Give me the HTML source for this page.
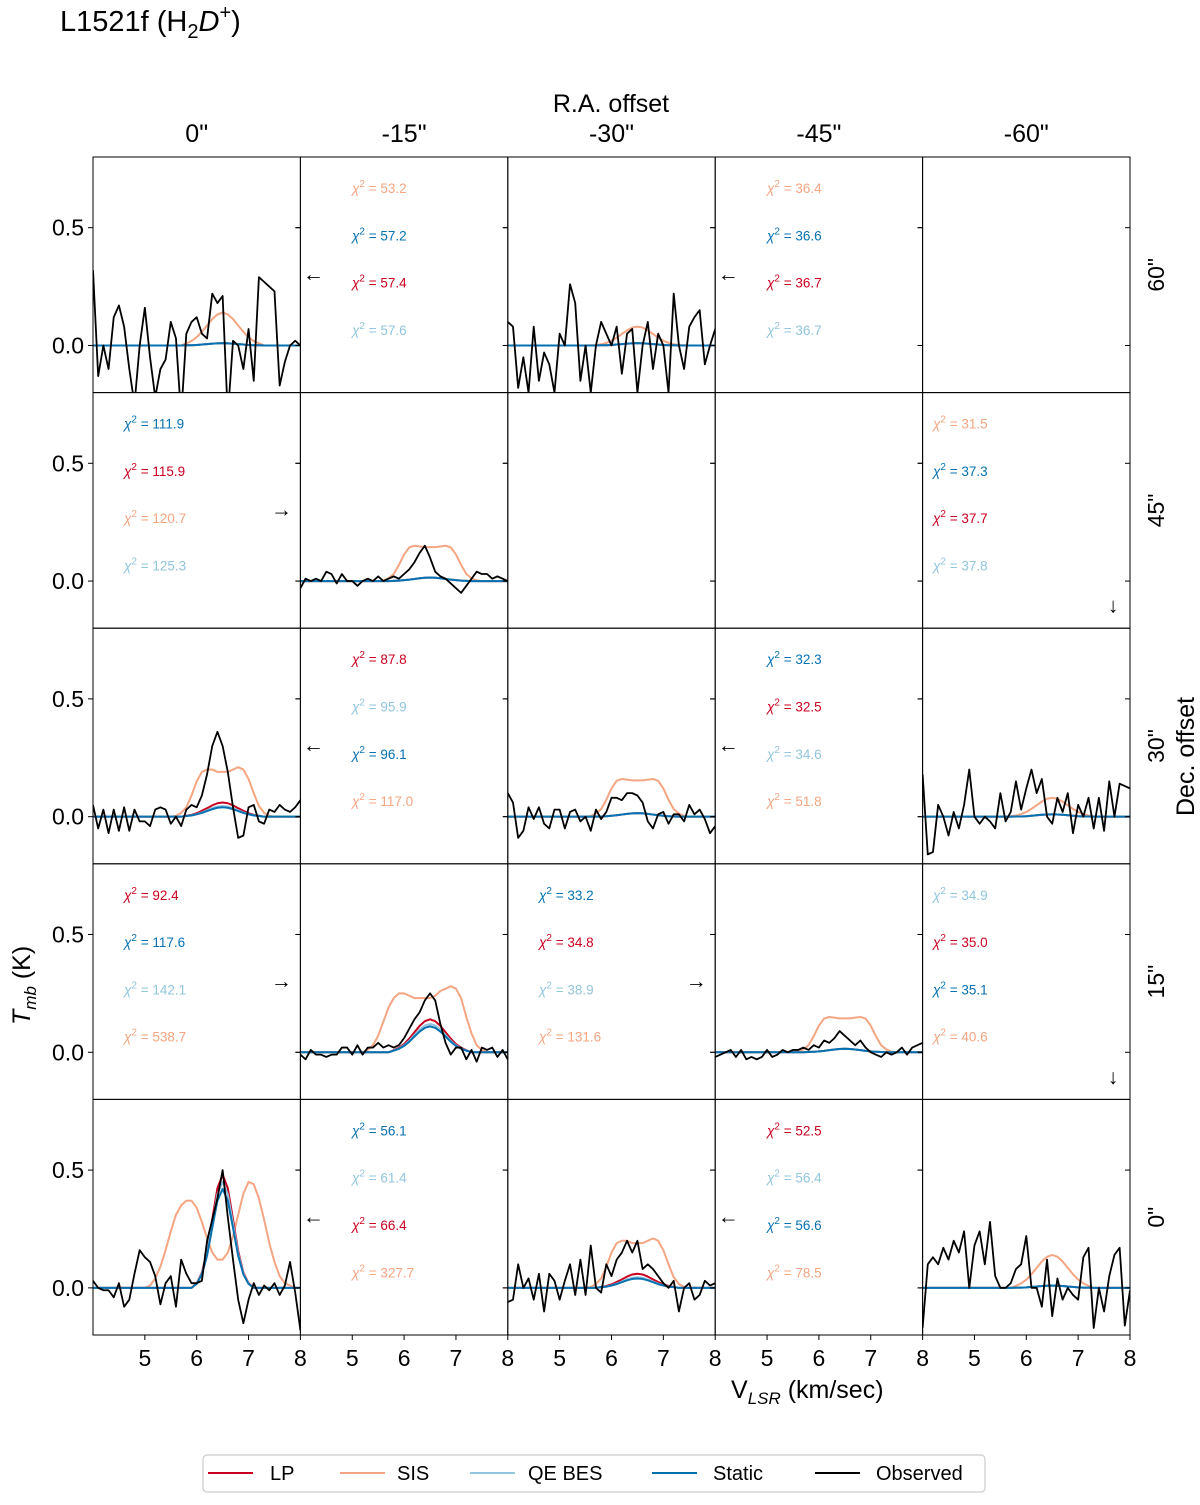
<!DOCTYPE html>
<html><head><meta charset="utf-8"><title>L1521f H2D+ spectra grid</title>
<style>
html,body{margin:0;padding:0;background:#fff;}
svg{display:block;font-family:"Liberation Sans","DejaVu Sans",sans-serif;}
</style></head>
<body>
<svg id="chart" width="1200" height="1505" viewBox="0 0 1200 1505" xmlns="http://www.w3.org/2000/svg">
<rect x="0" y="0" width="1200" height="1505" fill="#fff"/>
<text x="60" y="31" font-size="29">L1521f (H<tspan font-size="20" dy="7">2</tspan><tspan dy="-7" font-style="italic">D</tspan><tspan font-size="20" dy="-12">+</tspan><tspan dy="12">)</tspan></text>
<text x="611" y="112" font-size="25" text-anchor="middle">R.A. offset</text>
<text x="731" y="1398" font-size="25">V<tspan font-size="17" dy="6" font-style="italic">LSR</tspan><tspan dy="-6"> (km/sec)</tspan></text>
<text transform="translate(30,1025) rotate(-90)" font-size="25"><tspan font-style="italic">T</tspan><tspan font-size="17" dy="6" font-style="italic">mb</tspan><tspan dy="-6"> (K)</tspan></text>
<text transform="translate(1194,816) rotate(-90)" font-size="25">Dec. offset</text>
<g id="panels"></g>
<g id="legend">
<rect x="203" y="1455" width="782" height="37" rx="4" fill="#fff" stroke="#ccc" stroke-width="1.2"/>
<line x1="208" y1="1473" x2="253" y2="1473" stroke="#ca0020" stroke-width="2"/>
<text x="270" y="1480" font-size="20">LP</text>
<line x1="340" y1="1473" x2="385" y2="1473" stroke="#f4a582" stroke-width="2"/>
<text x="397" y="1480" font-size="20">SIS</text>
<line x1="470" y1="1473" x2="515" y2="1473" stroke="#92c5de" stroke-width="2"/>
<text x="528" y="1480" font-size="20">QE BES</text>
<line x1="652" y1="1473" x2="697" y2="1473" stroke="#0571b0" stroke-width="2"/>
<text x="713" y="1480" font-size="20">Static</text>
<line x1="815" y1="1473" x2="860" y2="1473" stroke="#000" stroke-width="2"/>
<text x="876" y="1480" font-size="20">Observed</text>
</g>
</svg>
<script>
const colLabels = ['0"','-15"','-30"','-45"','-60"'];
const rowLabels = ['60"','45"','30"','15"','0"'];
const xTicks = [5,6,7,8];
const yTicks = [0.0,0.5];
const seriesColors = {LP:'#ca0020',SIS:'#f4a582',QE:'#92c5de',Static:'#0571b0'};

// observed spectra: 4.0..8.0 step 0.1 ; models: 5.0..8.0 step 0.1 (zero below 5.0)
const obs_r0c0 = [.32,-.13,0,-.1,.12,.17,.08,-.1,-.25,0,.16,-.05,-.22,-.1,-.06,.1,.03,-.3,.05,.1,.12,.05,.03,.22,.18,.21,-.3,.02,0,-.1,.07,-.15,.29,.27,.25,.23,-.17,-.07,0,.02,0];
const obs_r0c2 = [.1,.08,-.18,-.05,-.2,.08,-.15,-.03,-.08,-.2,.05,0,.26,.18,-.15,0,-.2,0,.1,.05,0,.08,-.12,.05,.07,-.2,0,.1,-.1,.05,0,-.2,.22,0,-.1,.08,.12,.15,-.08,0,.07];
const obs_r1c1 = [-.03,.01,0,.01,0,.04,.03,-.01,.03,0,0,-.02,0,.01,0,.02,0,.01,.02,.01,.03,.05,.08,.12,.15,.1,.04,.02,.01,-.01,-.03,-.05,-.02,.01,.04,.03,.03,.01,.02,.01,0];
const obs_r2c0 = [.05,-.05,.03,-.07,.03,-.06,.04,-.06,.03,-.02,-.02,-.04,.03,.04,.03,-.03,0,-.04,.03,.05,.04,.09,.18,.3,.36,.3,.19,.04,-.09,-.08,.04,.05,-.02,-.03,.03,.02,.05,.03,.02,.04,.07];
const obs_r2c2 = [.1,.06,-.09,-.06,.04,-.01,.04,-.03,-.05,.03,.03,-.05,.02,.03,-.02,0,-.06,.03,-.01,.02,.08,.08,.07,.1,.1,.09,.06,-.02,-.05,.01,.02,-.03,.01,.01,-.02,.05,.01,.03,-.01,-.07,-.04];
const obs_r2c4 = [.18,-.16,-.15,.05,0,-.08,.02,-.05,.05,.2,0,-.03,0,-.02,-.05,.1,-.02,.02,.15,.03,.12,.2,.1,.16,0,-.03,.08,.02,.1,-.07,.05,0,.08,-.05,.08,-.06,.15,0,.14,.13,.12];
const obs_r3c1 = [-.01,-.03,.01,-.01,-.01,-.02,-.01,-.01,.02,.02,-.01,.03,-.01,.02,.02,.04,.02,.03,.02,.03,.06,.1,.14,.17,.22,.25,.22,.12,.04,-.01,.02,.02,-.03,.01,-.04,.02,.01,.02,-.02,.01,-.03];
const obs_r3c3 = [-.02,-.01,0,.01,-.02,.01,-.03,-.02,-.03,-.02,.01,-.02,-.01,.01,0,.01,.01,.02,.01,.03,.02,.05,.04,.06,.09,.07,.05,.03,.05,.02,0,-.01,-.02,0,-.01,0,.02,-.01,.02,.03,.04];
const obs_r4c0 = [.03,0,-.01,-.01,-.04,.02,-.08,-.05,.06,.16,.13,.11,.05,-.07,.02,.05,-.08,.12,.06,.02,.02,.03,.2,.29,.38,.5,.3,.12,-.05,-.15,-.05,.02,-.03,.01,-.01,.02,-.03,.01,.11,-.02,-.18];
const obs_r4c2 = [-.06,-.05,.1,0,.04,-.05,.06,-.1,.06,.03,-.05,.03,.1,-.03,.12,-.03,.18,0,-.02,.1,.05,.12,.15,.2,.15,.2,.08,.1,.08,.05,.02,0,.03,-.1,0,.02,-.05,-.03,.03,.01,.02];
const obs_r4c4 = [-.17,.1,.13,.1,.17,.12,.2,.15,.24,0,.18,.24,.1,.28,.05,0,0,.02,.08,.1,.22,0,0,-.08,.12,-.12,.04,-.05,0,-.03,-.05,.13,.17,-.17,0,-.1,.05,.14,.17,-.16,-.01];

const m_tiny = [0,0,0,0,0,0,0,0,.001,.001,.002,.004,.006,.008,.009,.01,.009,.008,.006,.004,.002,.001,.001,0,0,0,0,0,0,0,0];
const m_015 = [0,0,0,0,0,0,0,0,.001,.002,.004,.006,.009,.012,.014,.015,.014,.012,.009,.006,.004,.002,.001,0,0,0,0,0,0,0,0];
const m_04 = [0,0,0,0,0,0,0,0,.003,.005,.01,.016,.024,.032,.038,.04,.038,.032,.024,.016,.01,.005,.003,0,0,0,0,0,0,0,0];
const m_045 = [0,0,0,0,0,0,0,0,.003,.006,.011,.018,.027,.036,.043,.045,.043,.036,.027,.018,.011,.006,.003,0,0,0,0,0,0,0,0];
const m_06 = [0,0,0,0,0,0,0,0,.004,.008,.015,.025,.036,.048,.057,.06,.057,.048,.036,.025,.015,.008,.004,0,0,0,0,0,0,0,0];
const m_11 = [0,0,0,0,0,0,0,0,.007,.015,.027,.045,.067,.088,.104,.11,.104,.088,.067,.045,.027,.015,.007,0,0,0,0,0,0,0,0];
const m_12 = [0,0,0,0,0,0,0,0,.008,.016,.03,.049,.073,.096,.114,.12,.114,.096,.073,.049,.03,.016,.008,0,0,0,0,0,0,0,0];
const m_14 = [0,0,0,0,0,0,0,0,.009,.019,.035,.058,.085,.112,.132,.14,.132,.112,.085,.058,.035,.019,.009,0,0,0,0,0,0,0,0];
const sis_08 = [0,0,0,0,0,0,.001,.002,.005,.011,.02,.033,.049,.064,.076,.08,.076,.064,.049,.033,.02,.011,.005,.002,.001,0,0,0,0,0,0];
const sis_plateau15 = [0,0,0,0,0,0,.003,.012,.03,.068,.113,.143,.15,.147,.144,.144,.144,.147,.15,.143,.113,.068,.03,.012,.003,0,0,0,0,0,0];
const sis_plateau16 = [0,0,0,0,0,0,.003,.013,.032,.072,.12,.152,.16,.157,.154,.154,.154,.157,.16,.152,.12,.072,.032,.013,.003,0,0,0,0,0,0];
const sis_plateau20 = [0,0,0,0,0,0,.004,.016,.04,.09,.15,.19,.2,.2,.19,.19,.19,.2,.21,.2,.16,.1,.045,.016,.004,0,0,0,0,0,0];
const sis_r3c1 = [0,0,0,.01,.03,.07,.13,.19,.23,.25,.25,.24,.23,.23,.23,.23,.24,.26,.27,.28,.27,.23,.15,.08,.03,.01,0,0,0,0,0];
const sis_r4c0 = [0,.01,.04,.09,.16,.24,.31,.35,.37,.37,.34,.28,.21,.15,.12,.12,.15,.22,.31,.4,.45,.44,.38,.29,.19,.11,.05,.02,.01,0,0];
const lp_r4c0 = [0,0,0,0,0,0,0,0,0,0,.02,.065,.156,.291,.423,.48,.423,.291,.156,.065,.02,0,0,0,0,0,0,0,0,0,0];
const qe_r4c0 = [0,0,0,0,0,0,0,0,0,0,.018,.061,.146,.273,.397,.45,.397,.273,.146,.061,.018,0,0,0,0,0,0,0,0,0,0];
const st_r4c0 = [0,0,0,0,0,0,0,0,0,0,.017,.057,.137,.255,.37,.42,.37,.255,.137,.057,.017,0,0,0,0,0,0,0,0,0,0];

const spectraPanels = [
 {r:0,c:0,obs:obs_r0c0,LP:m_tiny,SIS:m_14,QE:m_tiny,Static:m_tiny},
 {r:0,c:2,obs:obs_r0c2,LP:m_tiny,SIS:sis_08,QE:m_tiny,Static:m_tiny},
 {r:1,c:1,obs:obs_r1c1,LP:m_015,SIS:sis_plateau15,QE:m_015,Static:m_015},
 {r:2,c:0,obs:obs_r2c0,LP:m_06,SIS:sis_plateau20,QE:m_045,Static:m_04},
 {r:2,c:2,obs:obs_r2c2,LP:m_015,SIS:sis_plateau16,QE:m_015,Static:m_015},
 {r:2,c:4,obs:obs_r2c4,LP:m_tiny,SIS:sis_08,QE:m_tiny,Static:m_tiny},
 {r:3,c:1,obs:obs_r3c1,LP:m_14,SIS:sis_r3c1,QE:m_12,Static:m_11},
 {r:3,c:3,obs:obs_r3c3,LP:m_015,SIS:sis_plateau15,QE:m_015,Static:m_015},
 {r:4,c:0,obs:obs_r4c0,LP:lp_r4c0,SIS:sis_r4c0,QE:qe_r4c0,Static:st_r4c0},
 {r:4,c:2,obs:obs_r4c2,LP:m_06,SIS:sis_plateau20,QE:m_045,Static:m_04},
 {r:4,c:4,obs:obs_r4c4,LP:m_tiny,SIS:m_14,QE:m_tiny,Static:m_tiny}
];

const chiPanels = [
 {r:0,c:1,arrow:'←',labels:[['SIS','53.2'],['Static','57.2'],['LP','57.4'],['QE','57.6']]},
 {r:0,c:3,arrow:'←',labels:[['SIS','36.4'],['Static','36.6'],['LP','36.7'],['QE','36.7']]},
 {r:1,c:0,arrow:'→',labels:[['Static','111.9'],['LP','115.9'],['SIS','120.7'],['QE','125.3']]},
 {r:1,c:4,arrow:'↓',labels:[['SIS','31.5'],['Static','37.3'],['LP','37.7'],['QE','37.8']]},
 {r:2,c:1,arrow:'←',labels:[['LP','87.8'],['QE','95.9'],['Static','96.1'],['SIS','117.0']]},
 {r:2,c:3,arrow:'←',labels:[['Static','32.3'],['LP','32.5'],['QE','34.6'],['SIS','51.8']]},
 {r:3,c:0,arrow:'→',labels:[['LP','92.4'],['Static','117.6'],['QE','142.1'],['SIS','538.7']]},
 {r:3,c:2,arrow:'→',labels:[['Static','33.2'],['LP','34.8'],['QE','38.9'],['SIS','131.6']]},
 {r:3,c:4,arrow:'↓',labels:[['QE','34.9'],['LP','35.0'],['Static','35.1'],['SIS','40.6']]},
 {r:4,c:1,arrow:'←',labels:[['Static','56.1'],['QE','61.4'],['LP','66.4'],['SIS','327.7']]},
 {r:4,c:3,arrow:'←',labels:[['LP','52.5'],['QE','56.4'],['Static','56.6'],['SIS','78.5']]}
];

const NS='http://www.w3.org/2000/svg';
const X0=93, PW=207.4, Y0=157, PH=235.6;
const XMIN=4, XMAX=8, YMIN=-0.2, YMAX=0.8;
const OBS_START=4.0, MOD_START=5.0, STEP=0.1;
const chiX=[124,352,539,767,933];
const g=document.getElementById('panels');
function mk(t,a){const e=document.createElementNS(NS,t);for(const k in a)e.setAttribute(k,a[k]);return e;}
function pl(r,c){return X0+c*PW;}
function pt(r){return Y0+r*PH;}
function xs(c,v){return pl(0,c)+(v-XMIN)/(XMAX-XMIN)*PW;}
function ys(r,T){return pt(r)+(YMAX-T)/(YMAX-YMIN)*PH;}

const defs=mk('defs',{});g.appendChild(defs);
for(let r=0;r<5;r++)for(let c=0;c<5;c++){
  const cp=mk('clipPath',{id:'cp'+r+c});
  cp.appendChild(mk('rect',{x:pl(r,c),y:pt(r),width:PW,height:PH}));
  defs.appendChild(cp);
}
function drawLine(r,c,arr,start,color,w,name,baseline){
  let d='';
  if(baseline && start>XMIN) d+='M'+xs(c,XMIN).toFixed(2)+','+ys(r,0).toFixed(2);
  arr.forEach((T,i)=>{const v=start+i*STEP;d+=((i||d)?'L':'M')+xs(c,v).toFixed(2)+','+ys(r,T).toFixed(2);});
  const p=mk('path',{d:d,fill:'none',stroke:color,'stroke-width':w,'clip-path':'url(#cp'+r+c+')','stroke-linejoin':'round'});
  
  
  g.appendChild(p);
}
spectraPanels.forEach(p=>{
  drawLine(p.r,p.c,p.SIS,MOD_START,seriesColors.SIS,2,'sis-model-line',true);
  drawLine(p.r,p.c,p.LP,MOD_START,seriesColors.LP,2,'lp-model-line',true);
  drawLine(p.r,p.c,p.QE,MOD_START,seriesColors.QE,2,'qe-bes-model-line',true);
  drawLine(p.r,p.c,p.Static,MOD_START,seriesColors.Static,2,'static-model-line',true);
  drawLine(p.r,p.c,p.obs,OBS_START,'#000',1.8,'observed-spectrum-line',false);
});
chiPanels.forEach(p=>{
  p.labels.forEach((L,i)=>{
    const t=mk('text',{x:chiX[p.c],y:pt(p.r)+36+i*47.3,'font-size':13.5,fill:seriesColors[L[0]]});
    t.innerHTML='<tspan font-style="italic">χ</tspan><tspan font-size="10" dy="-6">2</tspan><tspan dy="6"> = '+L[1]+'</tspan>';
    
    
    g.appendChild(t);
  });
  let ax,ay;
  if(p.arrow==='←'){ax=pl(0,p.c)+13;ay=pt(p.r)+124;}
  else if(p.arrow==='→'){ax=pl(0,p.c)+PW-19;ay=pt(p.r)+124;}
  else {ax=pl(0,p.c)+PW-17;ay=pt(p.r)+220;}
  const a=mk('text',{x:ax,y:ay,'font-size':21,'text-anchor':'middle',fill:'#000'});
  a.textContent=p.arrow;
  
  
  g.appendChild(a);
});
for(let r=0;r<5;r++)for(let c=0;c<5;c++){
  const fr=mk('rect',{x:pl(r,c),y:pt(r),width:PW,height:PH,fill:'none',stroke:'#000','stroke-width':1});
  
  
  g.appendChild(fr);
  yTicks.forEach(T=>{
    const y=ys(r,T);
    g.appendChild(mk('line',{x1:pl(r,c),y1:y,x2:pl(r,c)-5,y2:y,stroke:'#000','stroke-width':1}));
    g.appendChild(mk('line',{x1:pl(r,c)+PW,y1:y,x2:pl(r,c)+PW-5,y2:y,stroke:'#000','stroke-width':1}));
  });
  if(r===4) xTicks.forEach(v=>{
    const x=xs(c,v);
    g.appendChild(mk('line',{x1:x,y1:pt(r)+PH,x2:x,y2:pt(r)+PH+5,stroke:'#000','stroke-width':1}));
  });
}
for(let r=0;r<5;r++){
  yTicks.forEach(T=>{
    const t=mk('text',{x:84,y:ys(r,T)+8,'font-size':23,'text-anchor':'end'});
    t.textContent=T.toFixed(1);
    
    
    g.appendChild(t);
  });
  const rl=mk('text',{'font-size':23,'text-anchor':'middle',transform:'translate(1164,'+(pt(r)+PH/2)+') rotate(-90)'});
  rl.textContent=rowLabels[r];
  
  
  g.appendChild(rl);
}
for(let c=0;c<5;c++){
  xTicks.forEach(v=>{
    const t=mk('text',{x:xs(c,v),y:1366,'font-size':23,'text-anchor':'middle'});
    t.textContent=v;
    
    
    g.appendChild(t);
  });
  const cl=mk('text',{x:pl(0,c)+PW/2,y:142,'font-size':25,'text-anchor':'middle'});
  cl.textContent=colLabels[c];
  
  
  g.appendChild(cl);
}
</script>
</body></html>
